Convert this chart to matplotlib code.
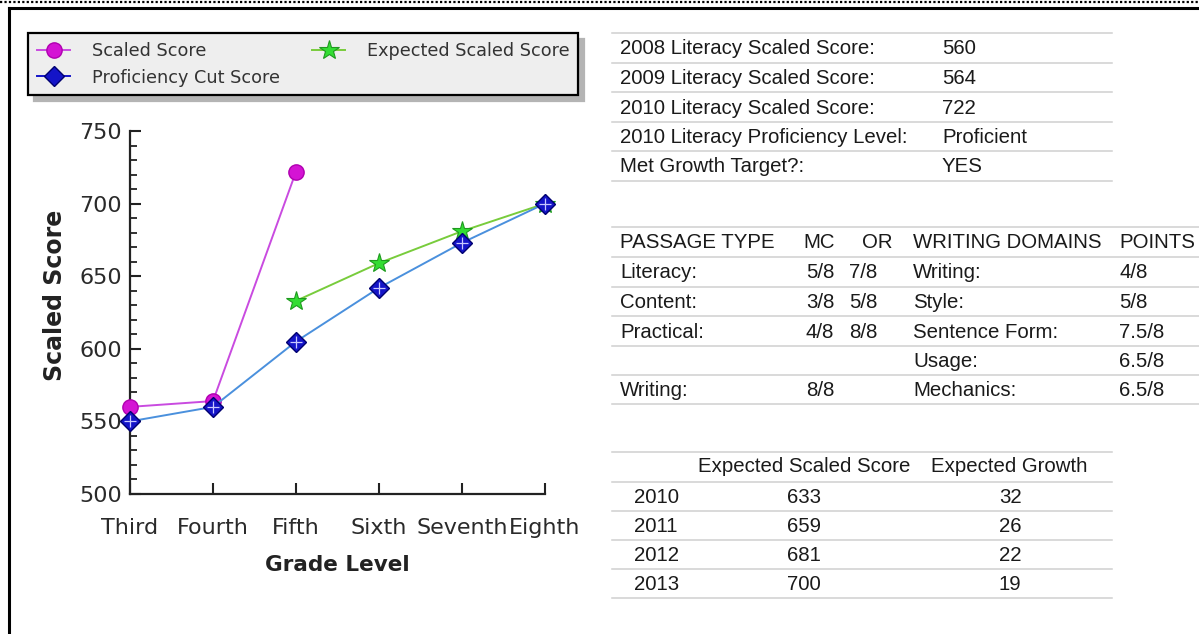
import matplotlib
matplotlib.use("Agg")
import matplotlib.pyplot as plt
from matplotlib.lines import Line2D
from matplotlib.ticker import MultipleLocator

# chart data
grades = ["Third", "Fourth", "Fifth", "Sixth", "Seventh", "Eighth"]
scaled_score = [560, 564, 722]
proficiency_cut = [550, 560, 605, 642, 673, 700]
expected_grades = ["Fifth", "Sixth", "Seventh", "Eighth"]
expected_score = [633, 659, 681, 700]

# summary table
summary_labels = ["2008 Literacy Scaled Score:", "2009 Literacy Scaled Score:",
                  "2010 Literacy Scaled Score:", "2010 Literacy Proficiency Level:",
                  "Met Growth Target?:"]
summary_values = ["560", "564", "722", "Proficient", "YES"]

# passage / writing table
passage_header = ["PASSAGE TYPE", "MC", "OR", "WRITING DOMAINS", "POINTS"]
passage_type = ["Literacy:", "Content:", "Practical:", "", "Writing:"]
passage_mc = ["5/8", "3/8", "4/8", "", "8/8"]
passage_or = ["7/8", "5/8", "8/8", "", ""]
writing_domain = ["Writing:", "Style:", "Sentence Form:", "Usage:", "Mechanics:"]
writing_points = ["4/8", "5/8", "7.5/8", "6.5/8", "6.5/8"]

# expected growth table
exp_header = ["", "Expected Scaled Score", "Expected Growth"]
exp_years = ["2010", "2011", "2012", "2013"]
exp_scores = ["633", "659", "681", "700"]
exp_growth = ["32", "26", "22", "19"]

W, H = 1199, 634
fig = plt.figure(figsize=(W / 100, H / 100), dpi=100)
fig.patch.set_facecolor("white")

# overlay in pixel coordinates for frame and tables
ov = fig.add_axes([0, 0, 1, 1])
ov.set_xlim(0, W)
ov.set_ylim(H, 0)
ov.axis("off")

ov.plot([0, W], [2, 2], color="black", lw=1.6, ls=(0, (1, 1)))
ov.plot([9, W], [8, 8], color="black", lw=2.2)
ov.plot([9, 9], [8, H], color="black", lw=2.2)

tfont = dict(family=["Liberation Sans", "DejaVu Sans"], fontsize=14.7, color="#1a1a1a", va="center")
grid_c = "#cfcfcf"

# table 1
t1_lines = [33, 63, 92, 122, 151, 181]
for y in t1_lines:
    ov.plot([612, 1112], [y, y], color=grid_c, lw=1.1)
for i, (lab, val) in enumerate(zip(summary_labels, summary_values)):
    yc = (t1_lines[i] + t1_lines[i + 1]) / 2 + 1
    ov.text(620, yc, lab, **tfont)
    ov.text(942, yc, val, **tfont)

# table 2
t2_lines = [227, 257, 287, 316, 346, 375, 404]
for y in t2_lines:
    ov.plot([612, W], [y, y], color=grid_c, lw=1.1)
hx = [620, 803, 862, 913, 1119]
yc = (t2_lines[0] + t2_lines[1]) / 2 + 1
for x, h in zip(hx, passage_header):
    ov.text(x, yc, h, **tfont)
for i in range(len(passage_type)):
    yc = (t2_lines[i + 1] + t2_lines[i + 2]) / 2 + 1
    ov.text(620, yc, passage_type[i], **tfont)
    ov.text(806, yc, passage_mc[i], **tfont)
    ov.text(849, yc, passage_or[i], **tfont)
    ov.text(913, yc, writing_domain[i], **tfont)
    ov.text(1119, yc, writing_points[i], **tfont)

# table 3
t3_lines = [452, 482, 511, 540, 569, 598]
for y in t3_lines:
    ov.plot([612, 1112], [y, y], color=grid_c, lw=1.1)
yc = (t3_lines[0] + t3_lines[1]) / 2
ov.text(804, yc, exp_header[1], ha="center", **tfont)
ov.text(1009, yc, exp_header[2], ha="center", **tfont)
for i in range(len(exp_years)):
    yc = (t3_lines[i + 1] + t3_lines[i + 2]) / 2 + 1
    ov.text(634, yc, exp_years[i], **tfont)
    ov.text(804, yc, exp_scores[i], ha="center", **tfont)
    ov.text(1010, yc, exp_growth[i], ha="center", **tfont)

# chart
ax = fig.add_axes([130 / W, 1 - 494 / H, 415 / W, 363 / H])
ax.set_facecolor("none")
xpos = {g: i for i, g in enumerate(grades)}

ax.plot([xpos[g] for g in grades[:len(scaled_score)]], scaled_score, color="#c94be0", lw=1.4,
        marker="o", ms=11, mfc="#d414d4", mec="#b000b0", clip_on=False, zorder=3)
ax.plot([xpos[g] for g in expected_grades], expected_score, color="#78cc3c", lw=1.4,
        marker="*", ms=15, mfc="#33dd33", mec="#1e9a1e", mew=0.8, clip_on=False, zorder=4)
ax.plot([xpos[g] for g in grades], proficiency_cut, color="#4a90dd", lw=1.4,
        marker="D", ms=10, mfc="#1414c8", mec="#000070", mew=1.0, clip_on=False, zorder=5)
ax.plot([xpos[g] for g in grades], proficiency_cut, ls="none", marker="+", ms=8,
        mec="#c8c8ff", mew=0.9, clip_on=False, zorder=6)

ax.set_xlim(0, 5)
ax.set_ylim(500, 750)
ax.set_xticks(range(len(grades)))
ax.set_xticklabels(grades)
ax.yaxis.set_major_locator(MultipleLocator(50))
ax.yaxis.set_minor_locator(MultipleLocator(10))
ax.tick_params(axis="both", which="major", direction="in", length=8, width=1.5,
               labelsize=16, colors="#222222", labelcolor="#2a2a2a")
ax.tick_params(axis="y", which="minor", direction="in", length=5, width=1.3, colors="#222222")
ax.tick_params(axis="x", pad=17)
ax.tick_params(axis="y", pad=6)
for s in ["top", "right"]:
    ax.spines[s].set_visible(False)
for s in ["left", "bottom"]:
    ax.spines[s].set_linewidth(1.6)
    ax.spines[s].set_color("#222222")

ax.set_ylabel("Scaled Score", fontsize=17, fontweight="bold", color="#222222")
ax.yaxis.set_label_coords(-0.152, 0.548)
ax.set_xlabel("Grade Level", fontsize=15.5, fontweight="bold", color="#222222")
ax.xaxis.set_label_coords(0.5, -0.168)

# legend
handles = [
    Line2D([], [], color="#c94be0", lw=1.4, marker="o", ms=11, mfc="#d414d4", mec="#b000b0"),
    Line2D([], [], color="#1414c8", lw=1.4, marker="D", ms=10, mfc="#1414c8", mec="#000070"),
    Line2D([], [], color="#78cc3c", lw=1.4, marker="*", ms=15, mfc="#33dd33", mec="#1e9a1e", mew=0.8),
]
labels = ["Scaled Score", "Proficiency Cut Score", "Expected Scaled Score"]
leg = fig.legend(handles, labels, ncol=2, mode="expand", loc="upper left",
                 bbox_to_anchor=(28 / W, 1 - 98 / H, 550 / W, 65 / H),
                 fontsize=12.7, labelcolor="#333333", fancybox=False,
                 edgecolor="black", facecolor="#eeeeee", framealpha=1,
                 shadow={"ox": 4, "oy": -4, "color": "#b4b4b4", "alpha": 1},
                 handlelength=1.9, handletextpad=1.2, labelspacing=0.5,
                 borderpad=0.5, borderaxespad=0, columnspacing=1.0)
leg.get_frame().set_linewidth(1.6)

fig.savefig("out.png", dpi=100, facecolor="white")
